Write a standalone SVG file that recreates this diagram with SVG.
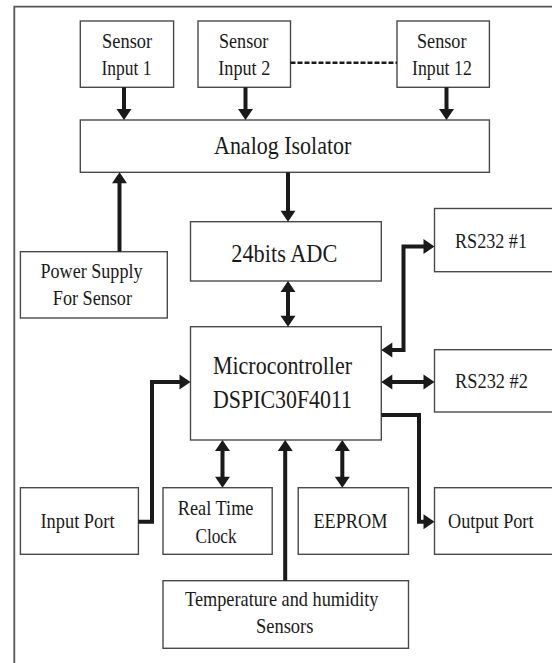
<svg xmlns="http://www.w3.org/2000/svg" width="552" height="663" viewBox="0 0 552 663">
<style>
.box{fill:#fff;stroke:#4a4a4a;stroke-width:1.4}
.frame{fill:none;stroke:#555;stroke-width:1.8}
.t{font-family:"Liberation Serif","Times New Roman",serif;font-size:21.5px;fill:#1a1a1a}
.T{font-family:"Liberation Serif","Times New Roman",serif;font-size:26px;fill:#1a1a1a}
.c{fill:none;stroke:#1a1a1a;stroke-width:4}
.d{fill:none;stroke:#1a1a1a;stroke-width:2.6;stroke-dasharray:5 2}
</style>
<defs>
<marker id="ah" markerUnits="userSpaceOnUse" markerWidth="11" markerHeight="15" refX="7" refY="7.5" orient="auto-start-reverse" overflow="visible">
<path d="M0,0 L11,7.5 L0,15 z" fill="#1a1a1a"/>
</marker>
</defs>
<rect width="552" height="663" fill="#fff"/>
<path class="frame" d="M14.3,663 V6.7 H552"/>

<g id="sensor1"><rect class="box" x="80.3" y="21" width="93.3" height="66.3"/>
<text class="t" x="102.1" y="47.7" textLength="50" lengthAdjust="spacingAndGlyphs">Sensor</text>
<text class="t" x="101.4" y="75" textLength="50" lengthAdjust="spacingAndGlyphs">Input 1</text></g>
<g id="sensor2"><rect class="box" x="198" y="21" width="92.5" height="66.3"/>
<text class="t" x="219" y="47.7" textLength="49.3" lengthAdjust="spacingAndGlyphs">Sensor</text>
<text class="t" x="218.3" y="75" textLength="52" lengthAdjust="spacingAndGlyphs">Input 2</text></g>
<g id="sensor12"><rect class="box" x="397" y="21" width="92.4" height="66.3"/>
<text class="t" x="417" y="47.7" textLength="49.5" lengthAdjust="spacingAndGlyphs">Sensor</text>
<text class="t" x="412" y="75" textLength="59.8" lengthAdjust="spacingAndGlyphs">Input 12</text></g>
<g id="isolator"><rect class="box" x="80.3" y="120" width="409.1" height="52.3"/>
<text class="T" x="214" y="154" textLength="137.4" lengthAdjust="spacingAndGlyphs">Analog Isolator</text></g>
<g id="power"><rect class="box" x="20.4" y="251.7" width="146.9" height="66.3"/>
<text class="t" x="40.5" y="278.3" textLength="102" lengthAdjust="spacingAndGlyphs">Power Supply</text>
<text class="t" x="52.8" y="305" textLength="79.2" lengthAdjust="spacingAndGlyphs">For Sensor</text></g>
<g id="adc"><rect class="box" x="190.5" y="221.7" width="190.8" height="59.3"/>
<text class="T" x="231.3" y="261.7" textLength="106" lengthAdjust="spacingAndGlyphs">24bits ADC</text></g>
<g id="rs232-1"><rect class="box" x="434.5" y="208.5" width="130" height="63.2"/>
<text class="t" x="455" y="247.7" textLength="72" lengthAdjust="spacingAndGlyphs">RS232 #1</text></g>
<g id="mcu"><rect class="box" x="190.5" y="326.7" width="190.8" height="113.3"/>
<text class="T" x="213" y="374.3" textLength="139" lengthAdjust="spacingAndGlyphs">Microcontroller</text>
<text class="T" x="213" y="408.3" textLength="139" lengthAdjust="spacingAndGlyphs">DSPIC30F4011</text></g>
<g id="rs232-2"><rect class="box" x="434.5" y="349.7" width="130" height="62.3"/>
<text class="t" x="455" y="388.3" textLength="73" lengthAdjust="spacingAndGlyphs">RS232 #2</text></g>
<g id="inputport"><rect class="box" x="20.4" y="487.7" width="118" height="66.6"/>
<text class="t" x="40.5" y="527.7" textLength="74" lengthAdjust="spacingAndGlyphs">Input Port</text></g>
<g id="rtc"><rect class="box" x="163" y="487.7" width="109.2" height="66.6"/>
<text class="t" x="177.8" y="515" textLength="75.7" lengthAdjust="spacingAndGlyphs">Real Time</text>
<text class="t" x="195.4" y="542.7" textLength="41.2" lengthAdjust="spacingAndGlyphs">Clock</text></g>
<g id="eeprom"><rect class="box" x="298.2" y="487.7" width="110.3" height="66.6"/>
<text class="t" x="313.4" y="527.7" textLength="74" lengthAdjust="spacingAndGlyphs">EEPROM</text></g>
<g id="outputport"><rect class="box" x="434.5" y="487.7" width="130" height="66.6"/>
<text class="t" x="448" y="527.7" textLength="85.5" lengthAdjust="spacingAndGlyphs">Output Port</text></g>
<g id="temp"><rect class="box" x="163" y="580.7" width="245.5" height="67.6"/>
<text class="t" x="185" y="605.7" textLength="193.5" lengthAdjust="spacingAndGlyphs">Temperature and humidity</text>
<text class="t" x="256" y="633.3" textLength="57.4" lengthAdjust="spacingAndGlyphs">Sensors</text></g>

<g id="connectors">
<path class="d" d="M290.5,62.7 H397"/>
<path class="c" marker-end="url(#ah)" d="M124,87.3 V116"/>
<path class="c" marker-end="url(#ah)" d="M245.5,87.3 V116"/>
<path class="c" marker-end="url(#ah)" d="M446.5,87.3 V116"/>
<path class="c" marker-end="url(#ah)" d="M119.5,251.7 V176.3"/>
<path class="c" marker-end="url(#ah)" d="M288,172.3 V217.7"/>
<path class="c" marker-start="url(#ah)" marker-end="url(#ah)" d="M288,285 V322.7"/>
<path class="c" marker-start="url(#ah)" marker-end="url(#ah)" d="M385.3,350 H403.5 V246.5 H430.5"/>
<path class="c" marker-start="url(#ah)" marker-end="url(#ah)" d="M385.3,382 H430.5"/>
<path class="c" marker-end="url(#ah)" d="M381.3,415 H419 V521.7 H430.5"/>
<path class="c" marker-end="url(#ah)" d="M138.4,521.7 H152 V382 H186.5"/>
<path class="c" marker-start="url(#ah)" marker-end="url(#ah)" d="M222.5,444 V483.7"/>
<path class="c" marker-end="url(#ah)" d="M285.2,580.7 V444"/>
<path class="c" marker-start="url(#ah)" marker-end="url(#ah)" d="M342.3,444 V483.7"/>
</g>
</svg>
